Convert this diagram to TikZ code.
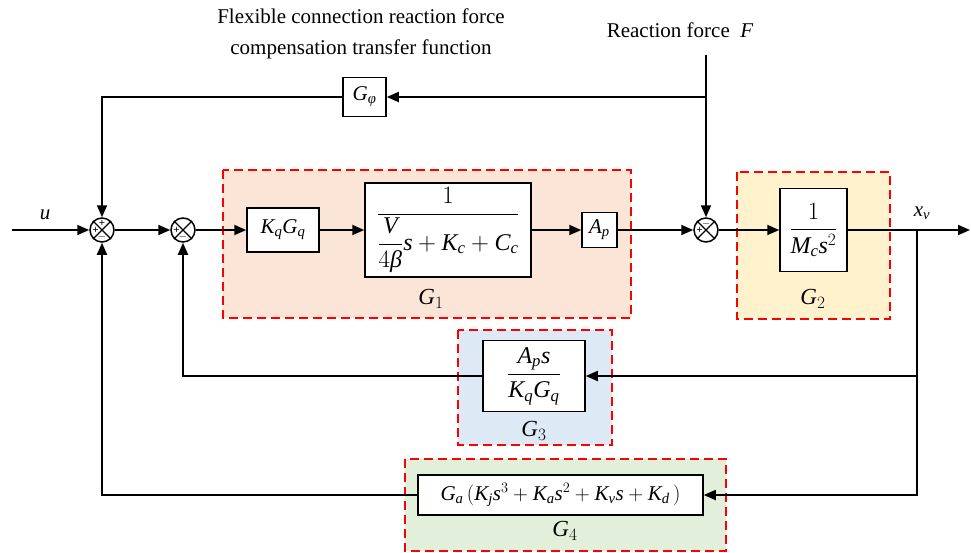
\documentclass[tikz,border=0pt]{standalone}
\usepackage{amsmath}
\usepackage{fontspec}
\setmainfont{Liberation Serif}
% serif italic letters and upright digits in formulas
\edef\setformulafonts{%
  \noexpand\DeclareSymbolFont{letters}{TU}{\rmdefault}{m}{it}%
  \noexpand\DeclareSymbolFont{operators}{TU}{\rmdefault}{m}{n}}
\setformulafonts
\usetikzlibrary{arrows.meta}

\newcommand{\gbeta}{\text{\itshape β}}
\newcommand{\gphi}{\text{\itshape φ}}

\definecolor{gonefill}{RGB}{251,229,214}
\definecolor{gtwofill}{RGB}{255,242,204}
\definecolor{gthreefill}{RGB}{222,233,246}
\definecolor{gfourfill}{RGB}{226,239,218}

\tikzset{
  every node/.style={font=\fontsize{21}{25}\selectfont},
  bigmath/.style={font=\fontsize{24}{28}\selectfont},
  glabel/.style={font=\fontsize{23}{27}\selectfont},
  wire/.style={line width=1.8pt},
  sig/.style={line width=1.8pt, -{Triangle[length=12pt,width=10pt]}},
  blk/.style={draw, line width=1.5pt, fill=white, inner sep=0pt},
  sumj/.style={circle, draw, line width=1.5pt, minimum size=24pt, inner sep=0pt, fill=white},
  grp/.style={draw=red, dash pattern=on 9pt off 5pt, line width=2.2pt},
  sgn/.style={font=\fontsize{11}{11}\bfseries\selectfont, inner sep=0pt},
}

\begin{document}
\begin{tikzpicture}[x=1pt, y=-1pt]
\useasboundingbox (0,0) rectangle (971,552);

% shaded groups
\draw[grp, fill=gonefill]   (223,170) rectangle (631,318);
\draw[grp, fill=gtwofill]   (737,172) rectangle (890,319);
\draw[grp, fill=gthreefill] (458,330) rectangle (612,445);
\draw[grp, fill=gfourfill]  (405,459) rectangle (726,551);

\node[glabel] (g1l) at (431,299) {$G_1$};
\node[glabel] (g2l) at (813,299) {$G_2$};
\node[glabel] (g3l) at (534,431) {$G_3$};
\node[glabel] (g4l) at (565,531) {$G_4$};

% summing junctions
\node[sumj] (s1) at (102,230) {};
\node[sumj] (s2) at (183,230) {};
\node[sumj] (s3) at (706,230) {};
\foreach \s in {s1,s2,s3}{
  \draw[line width=1.3pt] (\s.45) -- (\s.225) (\s.135) -- (\s.315);
}
\node[sgn] (s1t) at ([yshift=6.5pt]s1.center) {+};
\node[sgn] (s1w) at ([xshift=-6.5pt]s1.center) {+};
\node[sgn] (s1b) at ([yshift=-6.5pt]s1.center) {$-$};
\node[sgn] (s2w) at ([xshift=-6.5pt]s2.center) {+};
\node[sgn] (s2b) at ([yshift=-6.5pt]s2.center) {$-$};
\node[sgn] (s3t) at ([yshift=6.5pt]s3.center) {$-$};
\node[sgn] (s3w) at ([xshift=-6.5pt]s3.center) {+};

% blocks
\node[blk, minimum width=72pt, minimum height=44pt] (kq) at (283,230) {$K_qG_q$};
\node[blk, bigmath, minimum width=166pt, minimum height=94pt] (hyd) at (448,230)
  {$\dfrac{1}{\dfrac{V}{4\gbeta}s+K_c+C_c}$};
\node[blk, minimum width=35pt, minimum height=35pt] (ap) at (599.5,230) {$A_p$};
\node[blk, bigmath, minimum width=67pt, minimum height=83pt] (mc) at (813.5,230) {$\dfrac{1}{M_cs^2}$};
\node[blk, bigmath, minimum width=102pt, minimum height=71pt] (g3) at (534,376) {$\dfrac{A_ps}{K_qG_q}$};
\node[blk, minimum width=285pt, minimum height=40pt] (g4) at (560.5,495)
  {$G_a\,(K_js^3+K_as^2+K_vs+K_d\,)$};
\node[blk, minimum width=43pt, minimum height=39pt] (gp) at (364.5,97) {$G_{\gphi}$};

% labels
\node (ul) at (45,215) {$u$};
\node (xvl) at (922,213) {$x_v$};
\node[align=center] (flex) at (361,34) {Flexible connection reaction force\\[6pt]compensation transfer function};
\node (rf) at (680,30) {Reaction force\ \ $F$};

% coordinates of free ends and branch points
\coordinate (uin) at (12,230);
\coordinate (xout) at (970,230);
\coordinate (ftop) at (706,55);
\coordinate (fj) at (706,97);
\coordinate (br) at (917,230);
\coordinate (br3) at (917,376);

% forward path
\draw[sig] (uin) -- (s1);
\draw[sig] (s1) -- (s2);
\draw[sig] (s2) -- (kq);
\draw[sig] (kq) -- (hyd);
\draw[sig] (hyd) -- (ap);
\draw[sig] (ap) -- (s3);
\draw[sig] (s3) -- (mc);
\draw[sig] (mc) -- (xout);

% disturbance and its compensation
\draw[sig] (ftop) -- (s3);
\draw[sig] (fj) -- (gp);
\draw[sig] (gp.west) -| (s1.north);

% feedback paths
\draw[sig] (br) |- (g4.east);
\draw[sig] (br3) -- (g3.east);
\draw[sig] (g3.west) -| (s2.south);
\draw[sig] (g4.west) -| (s1.south);
\end{tikzpicture}
\end{document}
